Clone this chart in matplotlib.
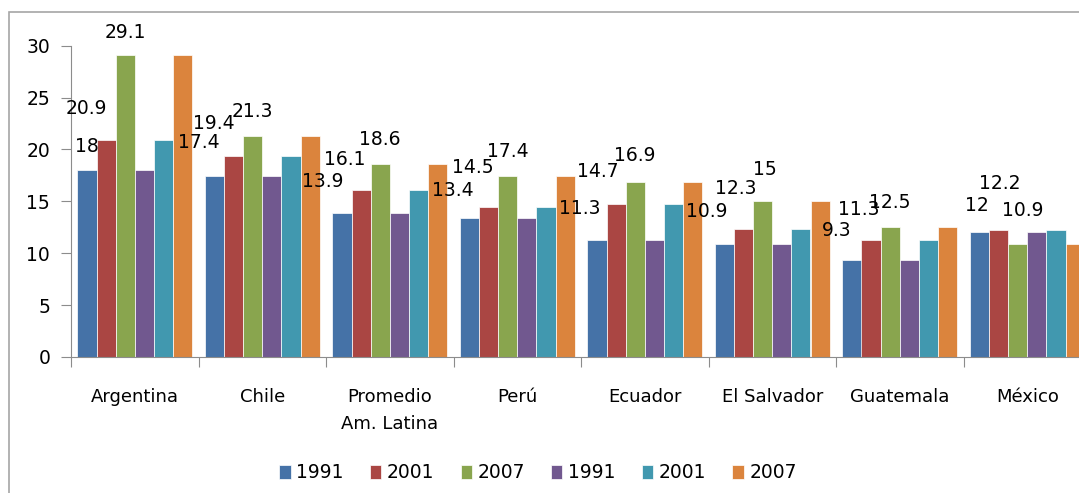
import numpy as np
import matplotlib
matplotlib.use('Agg')
import matplotlib.pyplot as plt
from matplotlib.patches import Rectangle

categories = ['Argentina', 'Chile', 'Promedio\nAm. Latina', 'Perú', 'Ecuador',
              'El Salvador', 'Guatemala', 'México']
seriesNames = ['1991', '2001', '2007', '1991', '2001', '2007']
vals1991 = [18, 17.4, 13.9, 13.4, 11.3, 10.9, 9.3, 12]
vals2001 = [20.9, 19.4, 16.1, 14.5, 14.7, 12.3, 11.3, 12.2]
vals2007 = [29.1, 21.3, 18.6, 17.4, 16.9, 15, 12.5, 10.9]
# second block of series repeats the same figures
seriesValues = [vals1991, vals2001, vals2007, vals1991, vals2001, vals2007]
colors = ['#4572A7', '#AA4643', '#89A54E', '#71588F', '#4198AF', '#DB843D']

# where excel dropped the data labels, in pixels from the bar top
labelDx = [[0, -16, -19, -17, -17, -18, -15, -3],
           [-20, -20, -16, -16, -18, -8, -12, 1],
           [0, 0, 0, 0, 0, 2, 0, 5]]
labelDy = [[24, 34, 31, 27, 31, 32, 30, 27],
           [32, 32, 30, 39, 33, 41, 30, 47],
           [23, 24, 24, 25, 26, 32, 25, 33]]

plt.rcParams['font.family'] = ['DejaVu Sans']

fig = plt.figure(figsize=(10.79, 4.93), dpi=100)
# outer chart border (cut off on the right and bottom like the reference)
fig.patches.append(Rectangle((9 / 1079, -0.1), 1.2, 1 - 12 / 493 + 0.1,
                             transform=fig.transFigure, fill=False,
                             edgecolor='#A6A6A6', linewidth=1.2))

ax = fig.add_axes([71 / 1079, 1 - 357 / 493, 1020 / 1079, (357 - 45.7) / 493])

n = len(seriesNames)
barW = 0.9 / n
x = np.arange(len(categories))

for j, (vals, col) in enumerate(zip(seriesValues, colors)):
    pos = x - 0.45 + barW * (j + 0.5)
    ax.bar(pos, vals, width=barW, color=col, edgecolor='white', linewidth=0.5,
           label=seriesNames[j])
    if j < 3:
        for i, v in enumerate(vals):
            ax.annotate(f'{v:g}', (pos[i], v),
                        xytext=(labelDx[j][i] * 0.72, labelDy[j][i] * 0.72),
                        textcoords='offset points', ha='center', va='center',
                        fontsize=13.5, color='black', annotation_clip=False)

ax.set_xlim(-0.5, len(categories) - 0.5)
ax.set_ylim(0, 30)
ax.set_yticks(range(0, 31, 5))
ax.set_xticks(np.arange(len(categories) + 1) - 0.5)
ax.set_xticklabels([])
ax.set_xticks(x, minor=True)
ax.set_xticklabels(categories, minor=True, fontsize=13, va='top', linespacing=1.7)
ax.tick_params(axis='x', which='minor', length=0, pad=22)
ax.tick_params(axis='x', which='major', length=7, color='#8C8C8C')
ax.tick_params(axis='y', length=7, color='#8C8C8C', labelsize=13.5, pad=8)
for s in ['top', 'right']:
    ax.spines[s].set_visible(False)
for s in ['left', 'bottom']:
    ax.spines[s].set_color('#8C8C8C')

fig.legend(loc='center', bbox_to_anchor=(538 / 1079, 1 - 473 / 493), ncol=6,
           frameon=False, fontsize=13.5, handlelength=0.6, handleheight=0.8,
           columnspacing=1.4, handletextpad=0.3)

plt.savefig('out.png', dpi=100)
plt.close()
